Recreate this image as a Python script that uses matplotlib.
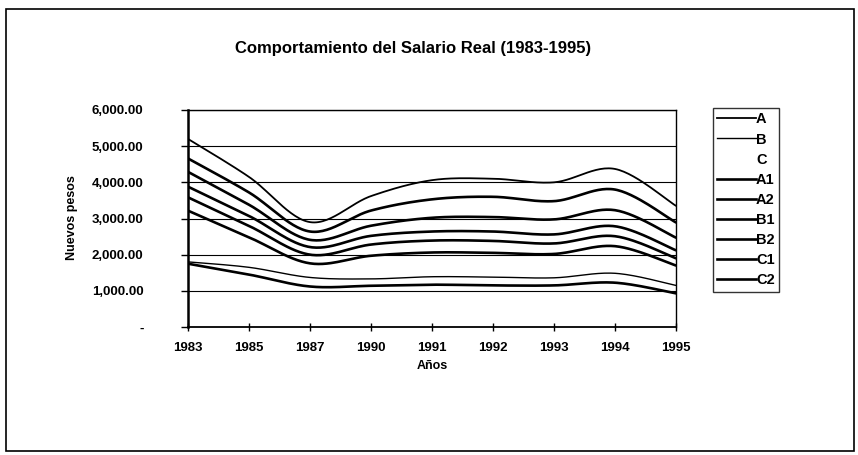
import numpy as np
import matplotlib
matplotlib.use("Agg")
import matplotlib.pyplot as plt
from matplotlib.lines import Line2D
from matplotlib.patches import Rectangle

plt.rcParams['font.family'] = ['Liberation Sans', 'DejaVu Sans']
plt.rcParams['font.weight'] = 'bold'

# ---- data ----
years = ['1983', '1985', '1987', '1990', '1991', '1992', '1993', '1994', '1995']
series_names = ['A', 'B', 'C', 'A1', 'A2', 'B1', 'B2', 'C1', 'C2']
A  = [5200, 4150, 2900, 3620, 4060, 4100, 4000, 4370, 3350]
B  = [1800, 1650, 1370, 1330, 1390, 1380, 1360, 1485, 1150]
A1 = [4660, 3720, 2640, 3220, 3530, 3600, 3480, 3800, 2890]
A2 = [4290, 3380, 2410, 2800, 3020, 3040, 2975, 3230, 2470]
B1 = [3880, 3070, 2210, 2520, 2640, 2640, 2560, 2785, 2120]
B2 = [3585, 2795, 2000, 2280, 2390, 2380, 2310, 2510, 1900]
C1 = [3217, 2480, 1760, 1970, 2060, 2050, 2020, 2235, 1700]
C2 = [1750, 1450, 1120, 1140, 1170, 1150, 1150, 1225, 930]
y_ticks = [0, 1000, 2000, 3000, 4000, 5000, 6000]
y_ticklabels = ['-', '1,000.00', '2,000.00', '3,000.00', '4,000.00', '5,000.00', '6,000.00']

title = 'Comportamiento del Salario Real (1983-1995)'
xlabel = 'Años'
ylabel = 'Nuevos pesos'

W, H = 858, 455
fig = plt.figure(figsize=(W / 100, H / 100), dpi=100)
fig.patch.set_facecolor('white')

def fx(px):
    return px / W

def fy(py):
    return 1 - py / H

ax = fig.add_axes([fx(188), fy(327), fx(676) - fx(188), fy(110) - fy(327)])


def smooth(yvals, n=30):
    """Excel-like smoothed line (Bezier through points, Catmull-Rom control points)."""
    x = np.arange(len(yvals), dtype=float)
    y = np.asarray(yvals, dtype=float)
    P = np.column_stack([x, y])
    Pe = np.vstack([P[0], P, P[-1]])
    out = []
    t = np.linspace(0, 1, n)[:, None]
    for i in range(len(P) - 1):
        p0, p1, p2, p3 = Pe[i], Pe[i + 1], Pe[i + 2], Pe[i + 3]
        c1 = p1 + (p2 - p0) / 6.0
        c2 = p2 - (p3 - p1) / 6.0
        seg = ((1 - t) ** 3) * p1 + 3 * ((1 - t) ** 2) * t * c1 + 3 * (1 - t) * t ** 2 * c2 + t ** 3 * p2
        out.append(seg if i == 0 else seg[1:])
    out = np.vstack(out)
    return out[:, 0], out[:, 1]

data = {'A': A, 'B': B, 'A1': A1, 'A2': A2, 'B1': B1, 'B2': B2, 'C1': C1, 'C2': C2}
widths = {'A': 1.3, 'B': 1.0, 'A1': 1.9, 'A2': 1.9, 'B1': 1.9, 'B2': 1.9, 'C1': 1.9, 'C2': 1.9}

# gridlines
for v in y_ticks[1:]:
    ax.axhline(v, color='black', lw=0.8, zorder=1)

handles = []
for name in series_names:
    if name in data:
        xs, ys = smooth(data[name])
        ax.plot(xs, ys, color='black', lw=widths[name], solid_capstyle='round', zorder=3)
        handles.append(Line2D([], [], color='black', lw=widths[name]))
    else:
        handles.append(Line2D([], [], color='none', lw=0))

ax.set_xlim(0, len(years) - 1)
ax.set_ylim(0, 6000)
ax.set_xticks(range(len(years)))
ax.set_xticklabels(years, fontsize=9.5, fontweight='bold')
ax.set_yticks(y_ticks)
ax.set_yticklabels(y_ticklabels, fontsize=9.5, fontweight='bold')
ax.tick_params(axis='x', direction='inout', length=6, width=1, pad=8)
ax.tick_params(axis='y', direction='out', length=5, width=1, pad=27)
for s in ax.spines.values():
    s.set_color('black')
    s.set_linewidth(1.0)
ax.spines['left'].set_linewidth(1.8)
ax.spines['bottom'].set_linewidth(1.3)

fig.text(fx(432), fy(366), xlabel, ha='center', va='center', fontsize=9, fontweight='bold')
fig.text(fx(72), fy(218), ylabel, ha='center', va='center', rotation=90, fontsize=9, fontweight='bold')
fig.text(fx(413), fy(49), title, ha='center', va='center', fontsize=12, fontweight='bold')

leg = fig.legend(handles, series_names, loc='upper left', bbox_to_anchor=(fx(713), fy(108)),
                 frameon=True, fancybox=False, edgecolor='black', fontsize=10.5,
                 handlelength=2.65, handletextpad=0.0, labelspacing=0.42, borderpad=0.3,
                 borderaxespad=0)
leg.get_frame().set_linewidth(1.0)
for t in leg.get_texts():
    t.set_fontweight('bold')

# outer chart border
fig.add_artist(Rectangle((fx(6), fy(451)), fx(854) - fx(6), fy(9) - fy(451), transform=fig.transFigure,
                         fill=False, edgecolor='black', lw=1.2))

fig.savefig('out.png', dpi=100)
